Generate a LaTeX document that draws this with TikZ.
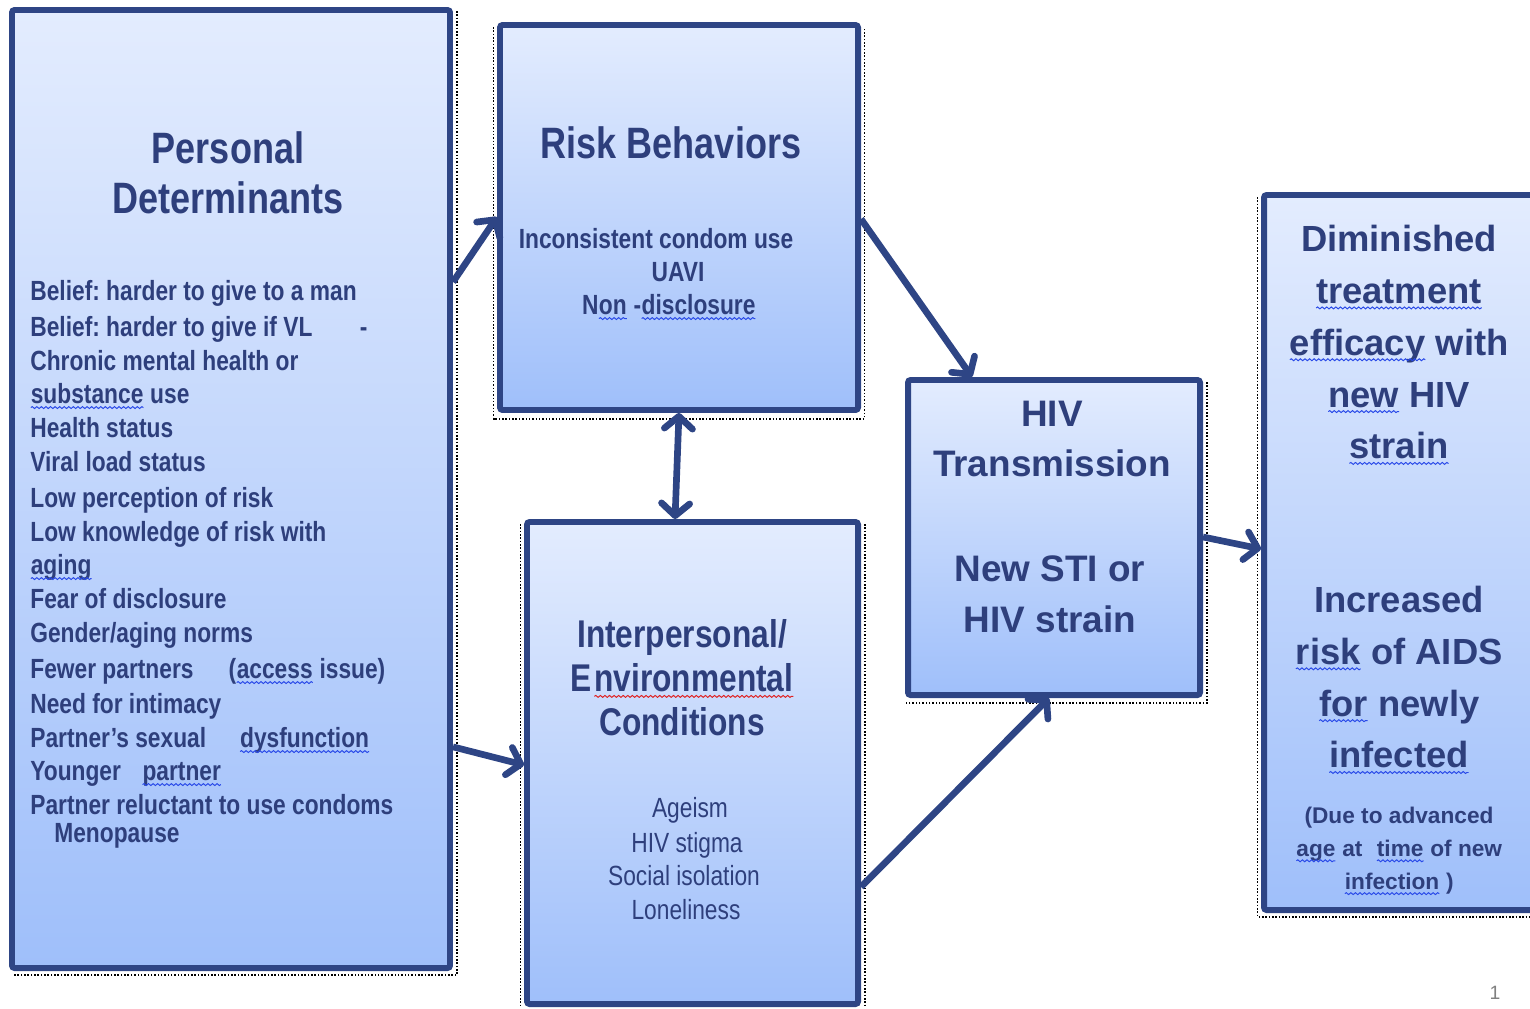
\documentclass[tikz,border=0pt]{standalone}
\usepackage{fontspec}
\setmainfont{Liberation Sans}
\newfontfamily\nar[FakeStretch=0.82]{Liberation Sans}
\usetikzlibrary{arrows.meta,fit,decorations.pathmorphing}
\definecolor{bordc}{HTML}{2E4585}
\definecolor{txtc}{HTML}{2E3F7C}
\definecolor{topc}{HTML}{E3ECFE}
\definecolor{botc}{HTML}{9FBFFA}
\definecolor{wblue}{HTML}{2848E8}
\definecolor{wred}{HTML}{E02020}
\frenchspacing
\newcommand\wavyword[2]{\tikz[baseline=(w.base)]{\node[inner sep=0pt,outer sep=0pt,anchor=base] (w) at (0,0) {#2}; \draw[#1, line width=0.55pt, decorate, decoration={snake, amplitude=0.55pt, segment length=2.6pt}] ([yshift=-2.6pt]w.base west) -- ([yshift=-2.6pt]w.base east);}}
\newcommand\bw[1]{\wavyword{wblue}{#1}}
\newcommand\rw[1]{\wavyword{wred}{#1}}
\tikzset{
  box/.style={draw=bordc, line width=3.4pt, rounded corners=1.5pt, top color=topc, bottom color=botc, inner sep=0pt, rectangle},
  shad/.style={black, densely dotted, line width=0.9pt},
  tipb/.tip={Straight Barb[length=7pt,width=16pt,round]},
  conn/.style={draw=bordc, line width=3.8pt, -tipb},
  both/.style={draw=bordc, line width=3.8pt, tipb-tipb},
  lst/.style={text=txtc, inner sep=0pt, anchor=base west, font=\nar\bfseries\fontsize{15.8}{19}\selectfont},
  lstc/.style={text=txtc, inner sep=0pt, anchor=base, font=\nar\bfseries\fontsize{15.8}{19}\selectfont},
  lstr/.style={text=txtc, inner sep=0pt, anchor=base, font=\nar\fontsize{15.8}{19}\selectfont},
  ctr/.style={text=txtc, inner sep=0pt, align=center}
}
\begin{document}
\begin{tikzpicture}[x=0.02cm,y=-0.02cm]
\useasboundingbox (0,0) rectangle (1530,1008);
\clip (0,0) rectangle (1530,1008);
% boxes
\node[box, fit={(12,10) (450,968)}] (pd) {};
\node[box, fit={(500,25) (858,410)}] (rb) {};
\node[box, fit={(527,522) (858,1004)}] (iec) {};
\node[box, fit={(908,380) (1200,695)}] (hiv) {};
\node[box, fit={(1264,195) (1545,910)}] (out) {};
% dotted shadows
\draw[shad] ([xshift=0.08cm,yshift=-0.08cm]pd.north east) -- ([xshift=0.08cm,yshift=-0.08cm]pd.south east) -- ([xshift=0.08cm,yshift=-0.08cm]pd.south west);
\draw[shad] ([xshift=-0.07cm,yshift=-0.1cm]rb.north west) -- ([xshift=-0.07cm,yshift=-0.12cm]rb.south west) -- ([xshift=0.07cm,yshift=-0.12cm]rb.south east) -- ([xshift=0.07cm,yshift=-0.1cm]rb.north east);
\draw[shad] ([xshift=-0.07cm,yshift=-0.1cm]iec.north west) -- ([xshift=-0.07cm]iec.south west);
\draw[shad] ([xshift=0.08cm,yshift=-0.1cm]iec.north east) -- ([xshift=0.08cm]iec.south east);
\draw[shad] ([xshift=0.08cm,yshift=-0.1cm]hiv.north east) -- ([xshift=0.08cm,yshift=-0.1cm]hiv.south east) -- ([xshift=0.02cm,yshift=-0.1cm]hiv.south west);
\draw[shad] ([xshift=-0.07cm,yshift=-0.1cm]out.north west) -- ([xshift=-0.07cm,yshift=-0.08cm]out.south west) -- ([yshift=-0.08cm]out.south east);
% connectors
\draw[conn] ([yshift=-5.5cm]pd.north east) -- ([yshift=-3.9cm]rb.north west);
\draw[conn] ([yshift=-3.94cm]rb.north east) -- ([xshift=1.34cm]hiv.north west);
\draw[both] (rb.south) -- ([xshift=-0.35cm]iec.north);
\draw[conn] ([yshift=-14.8cm]pd.north east) -- ([yshift=-4.92cm]iec.north west);
\draw[conn] ([yshift=-7.36cm]iec.north east) -- ([xshift=2.88cm]hiv.south west);
\draw[conn] ([yshift=-3.2cm]hiv.north east) -- ([yshift=-7.14cm]out.north west);
% Personal determinants
\node[ctr, font=\nar\bfseries\fontsize{25}{28.5}\selectfont] (pdt) at (228,173) {Personal\\Determinants};
\node[lst] (l1) at (30,300) {Belief: harder to give to a man};
\node[lst] (l2) at (30,336) {Belief: harder to give if VL\hspace{27pt}-};
\node[lst] (l3) at (30,370) {Chronic mental health or};
\node[lst] (l4) at (30,403) {\bw{substance} use};
\node[lst] (l5) at (30,437) {Health status};
\node[lst] (l6) at (30,471) {Viral load status};
\node[lst] (l7) at (30,507) {Low perception of risk};
\node[lst] (l8) at (30,541) {Low knowledge of risk with};
\node[lst] (l9) at (30,574) {\bw{aging}};
\node[lst] (l10) at (30,608) {Fear of disclosure};
\node[lst] (l11) at (30,642) {Gender/aging norms};
\node[lst] (l12) at (30,678) {Fewer partners\hspace{20pt}(\bw{access} issue)};
\node[lst] (l13) at (30,713) {Need for intimacy};
\node[lst] (l14) at (30,747) {Partner’s sexual\hspace{19pt}\bw{dysfunction}};
\node[lst] (l15) at (30,780) {Younger\hspace{12pt}\bw{partner}};
\node[lst] (l16) at (30,814) {Partner reluctant to use condoms};
\node[lst] (l17) at (54,842) {Menopause};
% Risk behaviors
\node[ctr, font=\nar\bfseries\fontsize{25}{28.5}\selectfont] (rbt) at (671,143) {Risk Behaviors};
\node[lstc] (r1) at (656,248) {Inconsistent condom use};
\node[lstc] (r2) at (678,281) {UAVI};
\node[lstc] (r3) at (669,314) {N\bw{on} -\bw{disclosure}};
% Interpersonal
\node[ctr, font=\nar\bfseries\fontsize{22}{25}\selectfont] (iect) at (682,678) {Interpersonal/\\E\kern1.5pt\rw{nvironmental}\\Conditions};
\node[lstr] (e1) at (690,817) {Ageism};
\node[lstr] (e2) at (687,852) {HIV stigma};
\node[lstr] (e3) at (684,885) {Social isolation};
\node[lstr] (e4) at (686,919) {Loneliness};
% HIV transmission
\node[ctr, font=\bfseries\fontsize{21}{29}\selectfont] (hivt) at (1052,439) {HIV\\Transmission};
\node[ctr, font=\bfseries\fontsize{21}{29}\selectfont] (hivb) at (1050,594) {New STI or\\HIV strain};
% Outcomes
\node[ctr, font=\bfseries\fontsize{20.7}{29.5}\selectfont] (o1) at (1399,345) {Diminished\\\bw{treatment}\\\bw{efficacy} with\\\bw{new} HIV\\\bw{strain}};
\node[ctr, font=\bfseries\fontsize{20.7}{29.5}\selectfont] (o2) at (1399,680) {Increased\\\bw{risk} of AIDS\\\bw{for} newly\\\bw{infected}};
\node[ctr, font=\bfseries\fontsize{12.9}{18.7}\selectfont] (o3) at (1399,851) {(Due to advanced\\\bw{age} at\hspace{8pt}\bw{time} of new\\\bw{infection} )};
% page number
\node[text=gray, inner sep=0pt, font=\fontsize{11}{13}\selectfont] (pg) at (1495,993) {1};
\end{tikzpicture}
\end{document}
